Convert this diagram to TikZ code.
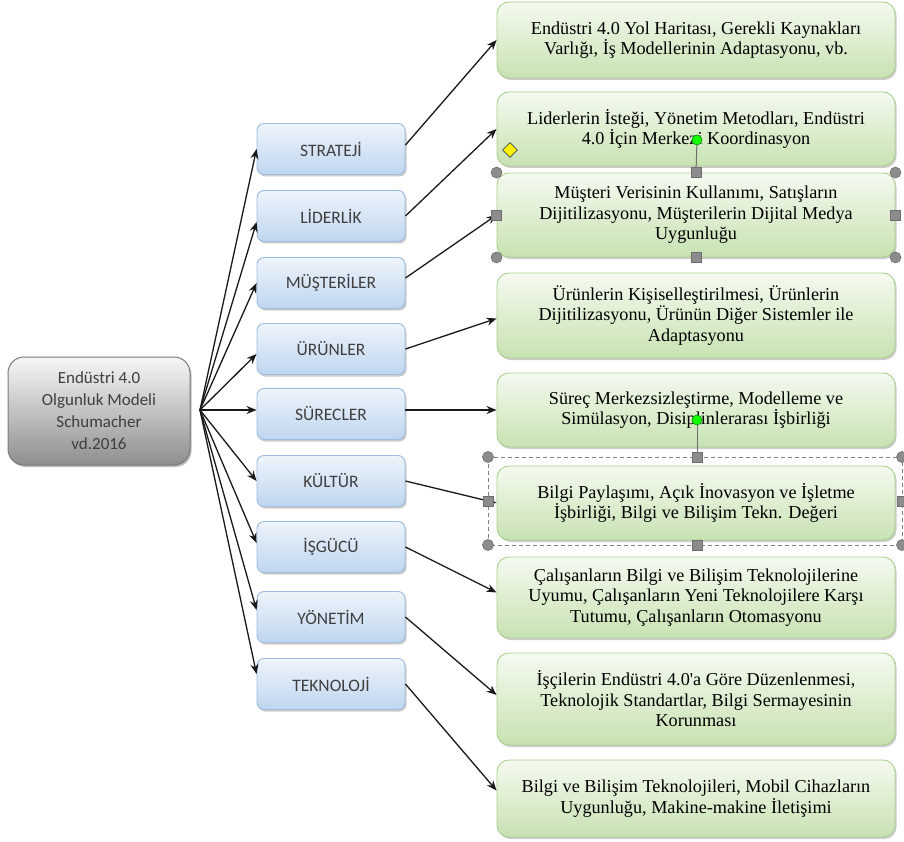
\documentclass[tikz,border=0pt]{standalone}
\usepackage{fontspec}
\setmainfont{Liberation Serif}
\newfontfamily\labelfont{Carlito}
\usetikzlibrary{arrows.meta,shadows,shapes.geometric}

\definecolor{hubtop}{HTML}{F7F7F7}
\definecolor{hubbot}{HTML}{8E8E8E}
\definecolor{hubline}{HTML}{7A7A7A}
\definecolor{bluetop}{HTML}{EEF4FB}
\definecolor{bluebot}{HTML}{BFD6EF}
\definecolor{blueline}{HTML}{9DBCE0}
\definecolor{greentop}{HTML}{F5FAF0}
\definecolor{greenbot}{HTML}{C7E2B2}
\definecolor{greenline}{HTML}{A8D08D}
\definecolor{labeltext}{HTML}{3F3F3F}
\definecolor{handlefill}{HTML}{8C8C8C}
\definecolor{handleline}{HTML}{6E6E6E}

\tikzset{
  hubbox/.style={draw=hubline, line width=1pt, rounded corners=16pt,
    top color=hubtop, bottom color=hubbot, minimum width=182pt,
    minimum height=108pt, align=center, text=labeltext,
    font=\labelfont\fontsize{17}{22}\selectfont,
    drop shadow={shadow xshift=1.5pt, shadow yshift=-2pt, fill=black, opacity=0.25}},
  areabox/.style={draw=blueline, line width=0.9pt, rounded corners=7pt,
    top color=bluetop, bottom color=bluebot, minimum width=148pt,
    minimum height=51pt, text=labeltext,
    font=\labelfont\fontsize{17.5}{20}\selectfont,
    drop shadow={shadow xshift=1.5pt, shadow yshift=-2pt, fill=black, opacity=0.2}},
  itembox/.style={draw=greenline, line width=0.9pt, rounded corners=12pt,
    top color=greentop, bottom color=greenbot, minimum width=398pt,
    align=center, text=black, font=\fontsize{18.2}{20.5}\selectfont,
    drop shadow={shadow xshift=1.5pt, shadow yshift=-2pt, fill=black, opacity=0.2}},
  link/.style={draw=black!90, line width=1.3pt, -{Stealth[length=10pt,width=8pt]}},
  sqhandle/.style={rectangle, draw=handleline, fill=handlefill, line width=0.6pt,
    minimum size=10pt, inner sep=0pt},
  rdhandle/.style={circle, draw=handleline, fill=handlefill, line width=0.6pt,
    minimum size=11pt, inner sep=0pt},
  rothandle/.style={circle, draw=green!55!black, fill=green!90!lime, line width=0.6pt,
    minimum size=10pt, inner sep=0pt},
  adjhandle/.style={diamond, draw=black!70, fill=yellow, line width=0.6pt,
    minimum size=15pt, inner sep=0pt},
}

\begin{document}
\begin{tikzpicture}[x=1pt, y=-1pt]
\useasboundingbox (0,0) rectangle (904,842);
\fill[white] (0,0) rectangle (904,842);

% central model box
\node[hubbox] (hub) at (99,411) {Endüstri 4.0\\Olgunluk Modeli\\Schumacher\\vd.2016};
\coordinate (fan) at (200,410);

% dimension boxes
\node[areabox] (strat) at (331,149) {STRATEJİ};
\node[areabox] (lead)  at (331,216) {LİDERLİK};
\node[areabox] (cust)  at (331,283) {MÜŞTERİLER};
\node[areabox] (prod)  at (331,349) {ÜRÜNLER};
\node[areabox] (proc)  at (331,414) {SÜRECLER};
\node[areabox] (cult)  at (331,481) {KÜLTÜR};
\node[areabox] (work)  at (331,547) {İŞGÜCÜ};
\node[areabox] (gov)   at (331,617) {YÖNETİM};
\node[areabox] (tech)  at (331,684) {TEKNOLOJİ};

% detail boxes
\node[itembox, minimum height=76pt] (d1) at (696,40)
  {Endüstri 4.0 Yol Haritası, Gerekli Kaynakları\\Varlığı, İş Modellerinin Adaptasyonu, vb.};
\node[itembox, minimum height=74pt] (d2) at (696,129)
  {Liderlerin İsteği, Yönetim Metodları, Endüstri\\4.0 İçin Merkezi Koordinasyon};
\node[itembox, minimum height=84pt] (d3) at (696,215)
  {Müşteri Verisinin Kullanımı, Satışların\\Dijitilizasyonu, Müşterilerin Dijital Medya\\Uygunluğu};
\node[itembox, minimum height=85pt] (d4) at (696,315.5)
  {Ürünlerin Kişiselleştirilmesi, Ürünlerin\\Dijitilizasyonu, Ürünün Diğer Sistemler ile\\Adaptasyonu};
\node[itembox, minimum height=74pt] (d5) at (696,410)
  {Süreç Merkezsizleştirme, Modelleme ve\\Simülasyon, Disiplinlerarası İşbirliği};
\node[itembox, minimum height=74pt] (d6) at (696,503)
  {Bilgi Paylaşımı, Açık İnovasyon ve İşletme\\İşbirliği, Bilgi ve Bilişim Tekn. Değeri};
\node[itembox, minimum height=81pt] (d7) at (696,597.5)
  {Çalışanların Bilgi ve Bilişim Teknolojilerine\\Uyumu, Çalışanların Yeni Teknolojilere Karşı\\Tutumu, Çalışanların Otomasyonu};
\node[itembox, minimum height=92pt] (d8) at (696,699)
  {İşçilerin Endüstri 4.0\textquotesingle a Göre Düzenlenmesi,\\Teknolojik Standartlar, Bilgi Sermayesinin\\Korunması};
\node[itembox, minimum height=77pt] (d9) at (696,798.5)
  {Bilgi ve Bilişim Teknolojileri, Mobil Cihazların\\Uygunluğu, Makine-makine İletişimi};

% fan of arrows from the model to its dimensions
\draw[link] (fan) -- (strat.west);
\draw[link] (fan) -- ([yshift=-6pt]lead.west);
\draw[link] (fan) -- (cust.west);
\draw[link] (fan) -- ([yshift=-5pt]prod.west);
\draw[link] (fan) -- ([yshift=4pt]proc.west);
\draw[link] (fan) -- (cult.west);
\draw[link] (fan) -- ([yshift=4pt]work.west);
\draw[link] (fan) -- ([yshift=7pt]gov.west);
\draw[link] (fan) -- ([yshift=10pt]tech.west);

% arrows from each dimension to its description
\draw[link] ([yshift=4pt]strat.east) -- (d1.west);
\draw[link] (lead.east) -- (d2.west);
\draw[link] ([yshift=5pt]cust.east) -- (d3.west);
\draw[link] (prod.east) -- ([yshift=-3pt]d4.west);
\draw[link] ([yshift=4pt]proc.east) -- (d5.west);
\draw[link] (cult.east) -- (d6.west);
\draw[link] (work.east) -- ([yshift=5pt]d7.west);
\draw[link] (gov.east) -- ([yshift=4pt]d8.west);
\draw[link] (tech.east) -- ([yshift=8pt]d9.west);

% editing handles on the selected shape d3
\node[adjhandle] (adj) at (510,150) {};
\draw[handleline, line width=1pt] (697,140) -- (d3.north);
\node[rothandle] (rot3) at (697,140) {};
\node[rdhandle] (h3nw) at (d3.north west) {};
\node[rdhandle] (h3ne) at (d3.north east) {};
\node[rdhandle] (h3sw) at (d3.south west) {};
\node[rdhandle] (h3se) at (d3.south east) {};
\node[sqhandle] (h3n) at (d3.north) {};
\node[sqhandle] (h3s) at (d3.south) {};
\node[sqhandle] (h3w) at (d3.west) {};
\node[sqhandle] (h3e) at (d3.east) {};

% dashed selection frame around d6
\draw[gray, line width=0.8pt, dash pattern=on 4pt off 3pt] (488,457) rectangle (902,545);
\draw[handleline, line width=1pt] (697,420) -- (697,457);
\node[rothandle] (rot6) at (697,420) {};
\node[rdhandle] (h6nw) at (488,457) {};
\node[rdhandle] (h6ne) at (902,457) {};
\node[rdhandle] (h6sw) at (488,545) {};
\node[rdhandle] (h6se) at (902,545) {};
\node[sqhandle] (h6n) at (697,457) {};
\node[sqhandle] (h6s) at (697,545) {};
\node[sqhandle] (h6w) at (488,501) {};
\node[sqhandle] (h6e) at (902,501) {};
\end{tikzpicture}
\end{document}
